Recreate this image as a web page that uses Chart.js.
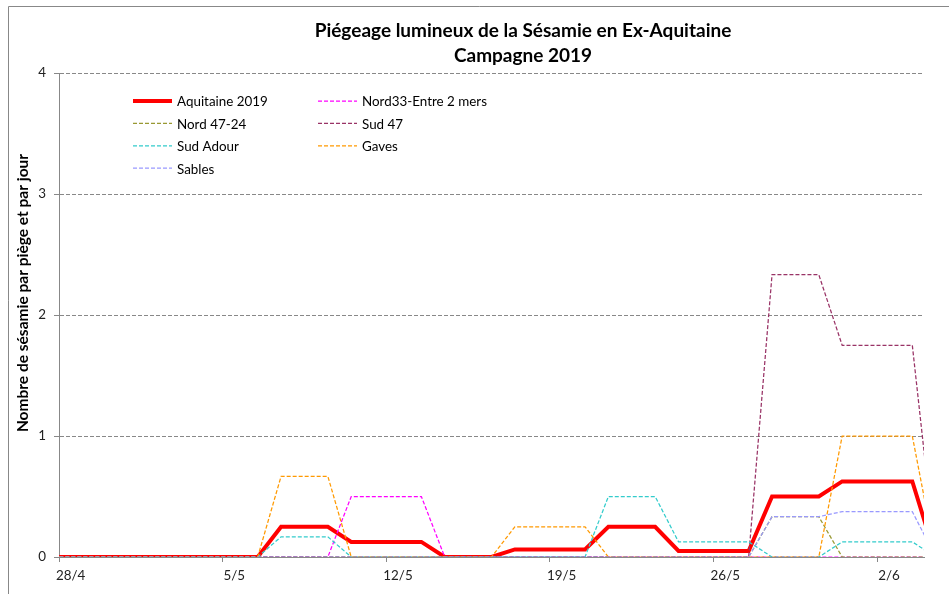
<!DOCTYPE html>
<html>
<head>
<meta charset="utf-8">
<script src="https://cdn.jsdelivr.net/npm/chart.js@4.4.0/dist/chart.umd.min.js"></script>
<style>
  html, body { margin: 0; padding: 0; background: #fff; }
</style>
</head>
<body>
<canvas id="chart1" width="949" height="594"></canvas>
<script>
// Chart Data (one value per day, 27/4 .. 4/6; the axis shows 28/4 .. 3/6)
const days = ['27/4', '28/4', '29/4', '30/4', '1/5', '2/5', '3/5', '4/5', '5/5', '6/5', '7/5',
              '8/5', '9/5', '10/5', '11/5', '12/5', '13/5', '14/5', '15/5', '16/5', '17/5',
              '18/5', '19/5', '20/5', '21/5', '22/5', '23/5', '24/5', '25/5', '26/5', '27/5',
              '28/5', '29/5', '30/5', '31/5', '1/6', '2/6', '3/6', '4/6'];
const firstDay = '28/4';
const lastDay = '3/6';
const tickDays = ['28/4', '5/5', '12/5', '19/5', '26/5', '2/6'];
const yTicks = [0, 1, 2, 3, 4];

const aquitaine = [0, 0, 0, 0, 0, 0, 0, 0, 0, 0, 0.25, 0.25, 0.25, 0.125, 0.125, 0.125, 0.125, 0, 0, 0,
                   0.0625, 0.0625, 0.0625, 0.0625, 0.25, 0.25, 0.25, 0.05, 0.05, 0.05, 0.05,
                   0.5, 0.5, 0.5, 0.625, 0.625, 0.625, 0.625, 0];
const nord33 = [0, 0, 0, 0, 0, 0, 0, 0, 0, 0, 0, 0, 0, 0.5, 0.5, 0.5, 0.5, 0, 0, 0,
                0, 0, 0, 0, 0, 0, 0, 0, 0, 0, 0, 0, 0, 0, 0, 0, 0, 0, 0];
const nord4724 = [0, 0, 0, 0, 0, 0, 0, 0, 0, 0, 0, 0, 0, 0, 0, 0, 0, 0, 0, 0,
                  0, 0, 0, 0, 0, 0, 0, 0, 0, 0, 0, 0.333, 0.333, 0.333, 0, 0, 0, 0, 0];
const sud47 = [0, 0, 0, 0, 0, 0, 0, 0, 0, 0, 0, 0, 0, 0, 0, 0, 0, 0, 0, 0,
               0, 0, 0, 0, 0, 0, 0, 0, 0, 0, 0, 2.333, 2.333, 2.333, 1.75, 1.75, 1.75, 1.75, 0];
const sudAdour = [0, 0, 0, 0, 0, 0, 0, 0, 0, 0, 0.167, 0.167, 0.167, 0, 0, 0, 0, 0, 0, 0,
                  0, 0, 0, 0, 0.5, 0.5, 0.5, 0.125, 0.125, 0.125, 0.125,
                  0, 0, 0, 0.125, 0.125, 0.125, 0.125, 0];
const gaves = [0, 0, 0, 0, 0, 0, 0, 0, 0, 0, 0.667, 0.667, 0.667, 0, 0, 0, 0, 0, 0, 0,
               0.25, 0.25, 0.25, 0.25, 0, 0, 0, 0, 0, 0, 0, 0, 0, 0, 1, 1, 1, 1, 0];
const sables = [0, 0, 0, 0, 0, 0, 0, 0, 0, 0, 0, 0, 0, 0, 0, 0, 0, 0, 0, 0,
                0, 0, 0, 0, 0, 0, 0, 0, 0, 0, 0, 0.333, 0.333, 0.333, 0.375, 0.375, 0.375, 0.375, 0];

const FONT = 'Lato, "Open Sans", sans-serif';
const DASH = [4, 2];
const dayIndex = (d) => days.indexOf(d);
const toPoints = (arr) => arr.map((v, i) => ({ x: i, y: v }));

// later series are painted over earlier ones, like the spreadsheet did
function series(label, data, color, n, width, dash) {
    return {
        label: label,
        data: toPoints(data),
        borderColor: color,
        backgroundColor: color,
        borderWidth: width,
        borderDash: dash,
        pointRadius: 0,
        tension: 0,
        order: 10 - n,
        clip: 0,
    };
}

// title, axis title, legend, border
const decorations = {
    id: 'decorations',
    afterDraw(chart) {
        const c = chart.ctx;
        c.save();
        // outer frame
        c.strokeStyle = '#888';
        c.lineWidth = 1;
        c.beginPath();
        c.moveTo(8.5, 600);
        c.lineTo(8.5, 6.5);
        c.lineTo(960, 6.5);
        c.stroke();

        // title
        c.fillStyle = '#000';
        c.textAlign = 'center';
        c.textBaseline = 'middle';
        c.font = 'bold 19px ' + FONT;
        c.fillText('Piégeage lumineux de la Sésamie en Ex-Aquitaine', 523, 31);
        c.fillText('Campagne 2019', 523, 56);

        // y axis title
        c.save();
        c.translate(23, 293);
        c.rotate(-Math.PI / 2);
        c.font = 'bold 15.5px ' + FONT;
        c.fillText('Nombre de sésamie par piège et par jour', 0, 0);
        c.restore();

        // legend, two columns
        const cols = [133, 318];
        c.font = '13.4px ' + FONT;
        c.textAlign = 'left';
        chart.data.datasets.forEach((ds, i) => {
            const x = cols[i % 2];
            const y = 101 + Math.floor(i / 2) * 22.4;
            c.strokeStyle = ds.borderColor;
            c.lineWidth = ds.borderWidth;
            c.setLineDash(ds.borderDash || []);
            c.beginPath();
            c.moveTo(x, y);
            c.lineTo(x + 39, y);
            c.stroke();
            c.setLineDash([]);
            c.fillStyle = '#000';
            c.fillText(ds.label, x + 44, y + 1);
        });
        c.restore();
    }
};

const ctx = document.getElementById('chart1').getContext('2d');
const chart1 = new Chart(ctx, {
    type: 'line',
    data: {
        datasets: [
            series('Aquitaine 2019', aquitaine, '#ff0000', 0, 4, []),
            series('Nord33-Entre 2 mers', nord33, '#ff00ff', 1, 1.25, DASH),
            series('Nord 47-24', nord4724, '#999933', 2, 1.25, DASH),
            series('Sud 47', sud47, '#993366', 3, 1.25, DASH),
            series('Sud Adour', sudAdour, '#33cccc', 4, 1.25, DASH),
            series('Gaves', gaves, '#ff9900', 5, 1.25, DASH),
            series('Sables', sables, '#9999ff', 6, 1.25, DASH),
        ],
    },
    options: {
        responsive: false,
        animation: false,
        events: [],
        layout: {
            padding: { top: 73, right: 25, bottom: 0, left: 0 },
        },
        plugins: {
            legend: { display: false },
            title: { display: false },
            tooltip: { enabled: false },
        },
        scales: {
            x: {
                type: 'linear',
                // each day is a slot: the axis runs from the start of 28/4 to the end of 3/6
                min: dayIndex(firstDay) - 0.5,
                max: dayIndex(lastDay) + 0.5,
                afterFit: (s) => { s.height = 37; },
                afterBuildTicks: (s) => { s.ticks = tickDays.map(d => ({ value: dayIndex(d) - 0.5 })); },
                grid: {
                    drawOnChartArea: false,
                    drawTicks: true,
                    tickLength: 5,
                    tickColor: '#888',
                },
                border: { color: '#888', width: 1 },
                ticks: {
                    autoSkip: false,
                    maxRotation: 0,
                    padding: 6,
                    color: '#222',
                    font: { family: FONT, size: 13.4 },
                    // label sits in the middle of its day slot
                    labelOffset: 865 / 37 / 2,
                    callback: (val) => days[Math.round(val + 0.5)],
                },
            },
            y: {
                min: yTicks[0],
                max: yTicks[yTicks.length - 1],
                afterFit: (s) => { s.width = 59; },
                afterBuildTicks: (s) => { s.ticks = yTicks.map(v => ({ value: v })); },
                grid: {
                    color: (c) => (c.tick && c.tick.value === 0 ? 'rgba(0,0,0,0)' : '#888'),
                    tickColor: '#888',
                    tickLength: 5,
                    tickBorderDash: [],
                },
                border: { color: '#888', width: 1, dash: DASH },
                ticks: {
                    padding: 8,
                    color: '#222',
                    font: { family: FONT, size: 13.4 },
                },
            },
        },
    },
    plugins: [decorations],
});
</script>
</body>
</html>
